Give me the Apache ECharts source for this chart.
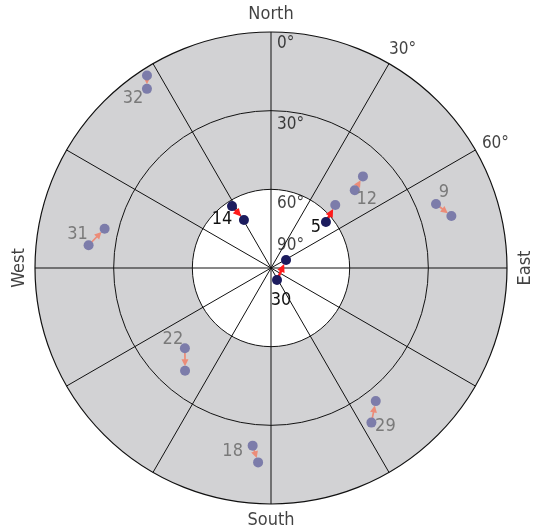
<!DOCTYPE html>
<html>
<head>
<meta charset="utf-8">
<script src="https://cdn.jsdelivr.net/npm/echarts@6/dist/echarts.min.js"></script>
<style>
  html, body { margin: 0; padding: 0; background: #ffffff; }
  #chart { width: 540px; height: 530px; }
</style>
</head>
<body>
<div id="chart"></div>
<script>
// Satellite sky plot: azimuth runs clockwise from north, elevation is 90° at the zenith (centre).
// Each satellite is tracked from a start position to an end position (degrees).
const satIds  = ['32', '14', '12', '5', '9', '31', '30', '22', '29', '18'];
const azStart = [327.2, 327.8, 47.1, 50.1, 68.8, 277.1, 153.4, 227.0, 147.0, 185.9];
const elStart = [2.7, 62.1, 46.4, 62.7, 22.5, 19.9, 84.9, 45.1, 19.7, 21.9];
const azEnd   = [325.3, 330.6, 45.1, 45.6, 73.9, 283.3, 61.9, 219.9, 141.8, 183.8];
const elEnd   = [6.9, 69.0, 40.5, 55.7, 18.4, 24.8, 83.5, 38.9, 25.4, 15.7];

// Satellites at or above this elevation are drawn highlighted.
const elevationMask = 60;

// Tick labels
const elevationTicks = [0, 30, 60, 90];
const azimuthTicks = [30, 60];
const directionNames = ['North', 'East', 'South', 'West'];
const directionAz = [0, 90, 180, 270];

// Layout: label offsets in pixels (centre of text relative to the start point)
const satLabelOffsets = [[-14, 23], [-10, 13], [12, 9], [-10, 5], [8, -12],
                         [-11, -11], [4, 20], [-12, -9], [14, 4], [-20, 6]];
const elevationLabelDy = [11.5, 13.5, 14.5, -22];
const azimuthLabelOffsets = [[0, -14.5], [6.5, -6.5]];
// Offsets are in the label's own (possibly rotated) frame.
const directionOffsets = [[0, -17.5], [0, 18.5], [0, 16], [0, -15.5]];

const NARROW = "'Liberation Sans Narrow', 'DejaVu Sans Condensed', sans-serif";
const COND = "'DejaVu Sans Condensed', 'Liberation Sans', sans-serif";

const COLORS = {
  ring: '#111111',
  fill: '#d2d2d4',
  dotOn: '#1c1c5e',
  dotOff: '#7c7caa',
  arrowOn: '#ff1a1a',
  arrowOff: '#ec8c78',
  labelOn: '#111111',
  labelOff: '#7a7a7a'
};

const chart = echarts.init(document.getElementById('chart'), null, { renderer: 'canvas' });

const satData = satIds.map((id, i) => [elStart[i], azStart[i], elEnd[i], azEnd[i], i]);

function renderSat(params, api) {
  const i = api.value(4);
  const p0 = api.coord([api.value(0), api.value(1)]);
  const p1 = api.coord([api.value(2), api.value(3)]);
  const on = api.value(0) >= elevationMask;
  const endOn = api.value(2) >= elevationMask;
  const dx = p1[0] - p0[0], dy = p1[1] - p0[1];
  const len = Math.sqrt(dx * dx + dy * dy) || 1;
  const ux = dx / len, uy = dy / len;
  const dotR = 5;
  const headLen = on ? 8 : 7;
  const headW = on ? 4 : 3.5;
  const tip = [p1[0] - ux * (dotR - 0.5), p1[1] - uy * (dotR - 0.5)];
  const base = [tip[0] - ux * headLen, tip[1] - uy * headLen];
  const arrowColor = on ? COLORS.arrowOn : COLORS.arrowOff;
  const children = [
    { type: 'line', shape: { x1: p0[0], y1: p0[1], x2: base[0] + ux, y2: base[1] + uy },
      style: { stroke: arrowColor, lineWidth: on ? 2.6 : 1.7 } },
    { type: 'polygon', shape: { points: [
        tip,
        [base[0] - uy * headW, base[1] + ux * headW],
        [base[0] + uy * headW, base[1] - ux * headW]
      ] }, style: { fill: arrowColor } },
    { type: 'circle', shape: { cx: p0[0], cy: p0[1], r: dotR },
      style: { fill: on ? COLORS.dotOn : COLORS.dotOff } },
    { type: 'circle', shape: { cx: p1[0], cy: p1[1], r: dotR },
      style: { fill: endOn ? COLORS.dotOn : COLORS.dotOff } },
    { type: 'text', style: {
        text: satIds[i],
        x: p0[0] + satLabelOffsets[i][0], y: p0[1] + satLabelOffsets[i][1],
        align: 'center', verticalAlign: 'middle',
        font: '18px ' + NARROW,
        fill: on ? COLORS.labelOn : COLORS.labelOff
      } }
  ];
  return { type: 'group', children };
}

// Elevation rings drawn through the radius scale
function renderRing(params, api) {
  const c = api.coord([90, 0]);
  const p = api.coord([api.value(0), 0]);
  const r = Math.hypot(p[0] - c[0], p[1] - c[1]);
  return { type: 'circle', shape: { cx: c[0], cy: c[1], r },
           style: { fill: null, stroke: COLORS.ring, lineWidth: 1 } };
}

const elevationLabelData = elevationTicks.map((e, i) => ({
  value: [e, 0],
  label: { offset: [6, elevationLabelDy[i]] }
}));

const azimuthLabelData = azimuthTicks.map((a, i) => ({
  value: [0, a],
  label: { offset: azimuthLabelOffsets[i] }
}));

const directionData = directionNames.map((name, i) => ({
  name,
  value: [0, directionAz[i]],
  label: {
    offset: directionOffsets[i],
    rotate: (directionAz[i] === 90 || directionAz[i] === 270) ? 90 : 0
  }
}));

const option = {
  backgroundColor: '#ffffff',
  animation: false,
  polar: { center: [271, 268], radius: 236 },
  angleAxis: {
    type: 'value', min: 0, max: 360, interval: 30,
    startAngle: 90, clockwise: true,
    axisLine: { show: true, lineStyle: { color: COLORS.ring, width: 1.2 } },
    axisTick: { show: false },
    axisLabel: { show: false },
    splitLine: { show: true, lineStyle: { color: COLORS.ring, width: 1, type: 'solid', opacity: 1 } }
  },
  radiusAxis: {
    type: 'value', min: 0, max: 90, interval: 30, inverse: true,
    axisLine: { show: false },
    axisTick: { show: false },
    axisLabel: { show: false },
    splitLine: { show: false },
    splitArea: { show: true, areaStyle: { color: [COLORS.fill, COLORS.fill, '#ffffff'] } }
  },
  series: [
    {
      type: 'custom', coordinateSystem: 'polar', silent: true, z: 3,
      renderItem: renderRing,
      data: elevationTicks.filter(e => e > 0 && e < 90).map(e => [e, 0])
    },
    {
      type: 'custom', coordinateSystem: 'polar',
      renderItem: renderSat, data: satData, z: 5, silent: true
    },
    {
      type: 'scatter', coordinateSystem: 'polar', symbolSize: 0, silent: true, z: 6,
      data: elevationLabelData,
      label: {
        show: true, position: 'inside', align: 'left', verticalAlign: 'middle',
        formatter: p => p.value[0] + '°',
        fontFamily: NARROW, fontSize: 17, color: '#111'
      }
    },
    {
      type: 'scatter', coordinateSystem: 'polar', symbolSize: 0, silent: true, z: 6,
      data: azimuthLabelData,
      label: {
        show: true, position: 'inside', align: 'left', verticalAlign: 'middle',
        formatter: p => p.value[1] + '°',
        fontFamily: NARROW, fontSize: 17, color: '#111'
      }
    },
    {
      type: 'scatter', coordinateSystem: 'polar', symbolSize: 0, silent: true, z: 6,
      data: directionData,
      label: {
        show: true, position: 'inside', align: 'center', verticalAlign: 'middle',
        formatter: p => p.name,
        fontFamily: COND, fontSize: 18, color: '#111'
      }
    }
  ]
};

chart.setOption(option);
</script>
</body>
</html>
